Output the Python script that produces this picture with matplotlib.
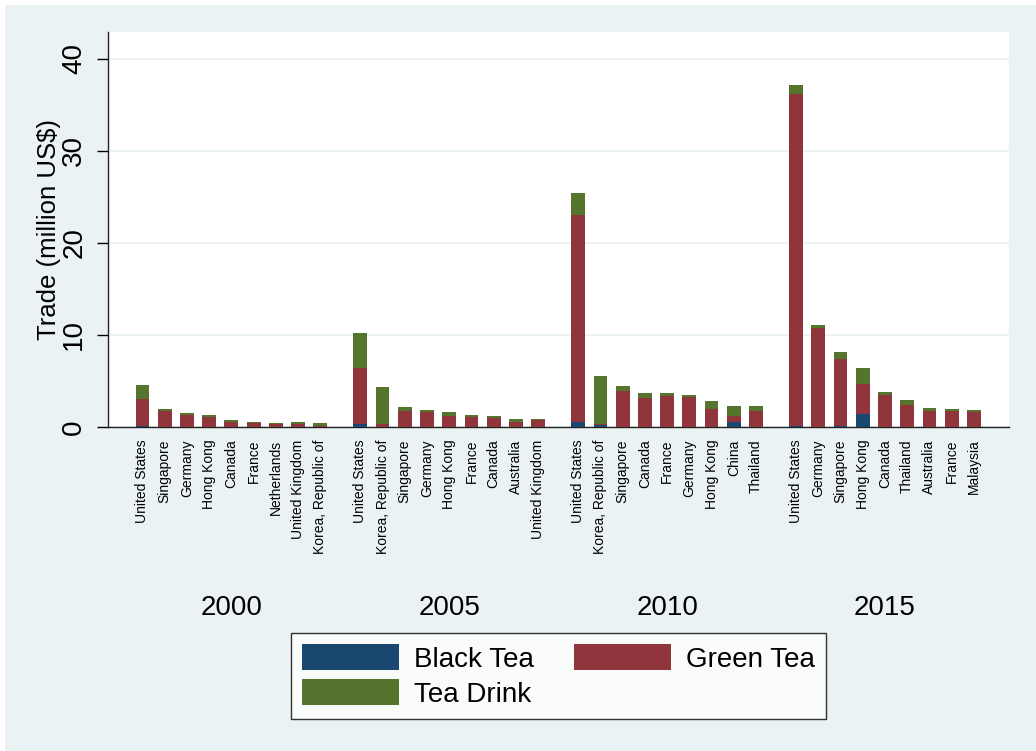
import matplotlib
matplotlib.use("Agg")
import matplotlib.pyplot as plt
from matplotlib.patches import Rectangle
import matplotlib.transforms as mtransforms

plt.rcParams['font.family'] = ['Liberation Sans', 'DejaVu Sans']

years = ["2000", "2005", "2010", "2015"]

# top nine importers per year, values in million US$
countries_2000 = ["United States", "Singapore", "Germany", "Hong Kong", "Canada",
                  "France", "Netherlands", "United Kingdom", "Korea, Republic of"]
black_2000 = [0.10, 0.02, 0.02, 0.02, 0.01, 0.01, 0.01, 0.01, 0.01]
green_2000 = [2.94, 1.72, 1.32, 1.03, 0.57, 0.46, 0.32, 0.35, 0.09]
drink_2000 = [1.53, 0.22, 0.18, 0.22, 0.14, 0.04, 0.10, 0.18, 0.33]

countries_2005 = ["United States", "Korea, Republic of", "Singapore", "Germany", "Hong Kong",
                  "France", "Canada", "Australia", "United Kingdom"]
black_2005 = [0.37, 0.05, 0.02, 0.02, 0.02, 0.02, 0.02, 0.01, 0.01]
green_2005 = [6.08, 0.24, 1.68, 1.61, 1.14, 1.07, 0.92, 0.53, 0.79]
drink_2005 = [3.73, 4.02, 0.43, 0.22, 0.44, 0.18, 0.26, 0.36, 0.10]

countries_2010 = ["United States", "Korea, Republic of", "Singapore", "Canada", "France",
                  "Germany", "Hong Kong", "China", "Thailand"]
black_2010 = [0.57, 0.20, 0.03, 0.03, 0.03, 0.03, 0.03, 0.50, 0.02]
green_2010 = [22.43, 0.17, 3.84, 3.15, 3.30, 3.27, 1.89, 0.66, 1.68]
drink_2010 = [2.48, 5.17, 0.55, 0.52, 0.37, 0.18, 0.87, 1.09, 0.58]

countries_2015 = ["United States", "Germany", "Singapore", "Hong Kong", "Canada",
                  "Thailand", "Australia", "France", "Malaysia"]
black_2015 = [0.10, 0.03, 0.10, 1.41, 0.03, 0.03, 0.02, 0.02, 0.02]
green_2015 = [36.13, 10.77, 7.33, 3.29, 3.42, 2.33, 1.75, 1.75, 1.65]
drink_2015 = [0.99, 0.29, 0.77, 1.76, 0.32, 0.54, 0.30, 0.22, 0.23]

groups = [
    (countries_2000, black_2000, green_2000, drink_2000),
    (countries_2005, black_2005, green_2005, drink_2005),
    (countries_2010, black_2010, green_2010, drink_2010),
    (countries_2015, black_2015, green_2015, drink_2015),
]

NAVY, MAROON, FOREST = "#1a476f", "#90353b", "#55752f"
BG = "#eaf2f3"

fig = plt.figure(figsize=(10.36, 7.51), dpi=100, facecolor="white")
fig.patches.append(Rectangle((5 / 1036, 0), 1, 746 / 751, transform=fig.transFigure,
                             facecolor=BG, edgecolor="none", zorder=-10))
ax = fig.add_axes([108 / 1036, (751 - 427) / 751, 901 / 1036, 395 / 751])
ax.set_facecolor("white")

gap = 1.8
positions, labels = [], []
year_centres = []
for g, (names, black, green, drink) in enumerate(groups):
    xs = [g * (len(names) - 1 + gap) + i for i in range(len(names))]
    base2 = [b + gr for b, gr in zip(black, green)]
    hb = ax.bar(xs, black, width=0.62, color=NAVY, linewidth=0, zorder=3)
    hg = ax.bar(xs, green, width=0.62, bottom=black, color=MAROON, linewidth=0, zorder=3)
    hd = ax.bar(xs, drink, width=0.62, bottom=base2, color=FOREST, linewidth=0, zorder=3)
    positions += xs
    labels += names
    year_centres.append((xs[0] + xs[-1]) / 2)

ax.set_xlim(-1.55, positions[-1] + 1.58)
ax.set_ylim(0, 42.93)

ax.set_yticks([0, 10, 20, 30, 40])
ax.yaxis.grid(True, color=BG, linewidth=1.3, zorder=0)
ax.tick_params(axis="y", labelsize=20, labelrotation=90, length=8, width=1,
               pad=7, direction="out")
for t in ax.get_yticklabels():
    t.set_va("center")

ax.set_xticks(positions, labels, rotation=90, fontsize=10)
ax.tick_params(axis="x", length=0, pad=9)

for s in ["top", "right"]:
    ax.spines[s].set_visible(False)
for s in ["left", "bottom"]:
    ax.spines[s].set_color("#222222")
    ax.spines[s].set_linewidth(1)

fig.text(49 / 1036, 1 - 229.5 / 751, "Trade (million US$)", rotation=90,
         ha="center", va="center", fontsize=18.5)

trans = mtransforms.blended_transform_factory(ax.transData, ax.transAxes)
for xc, yr in zip(year_centres, years):
    ax.text(xc, -0.458, yr, transform=trans, ha="center", va="center", fontsize=20)

# legend fills column by column, so order handles to read row by row
leg = fig.legend([hb, hd, hg], ["Black Tea", "Tea Drink", "Green Tea"],
                 loc="center", bbox_to_anchor=(558.5 / 1036, 1 - 676 / 751),
                 ncol=2, fontsize=20, frameon=True, fancybox=False,
                 handlelength=3.5, handleheight=1.03, handletextpad=0.54,
                 columnspacing=1.44, labelspacing=0.24, borderpad=0.4,
                 borderaxespad=0)
leg.get_frame().set_edgecolor("black")
leg.get_frame().set_linewidth(1)
leg.get_frame().set_facecolor("white")

fig.savefig("out.png", dpi=100, facecolor=fig.get_facecolor())
